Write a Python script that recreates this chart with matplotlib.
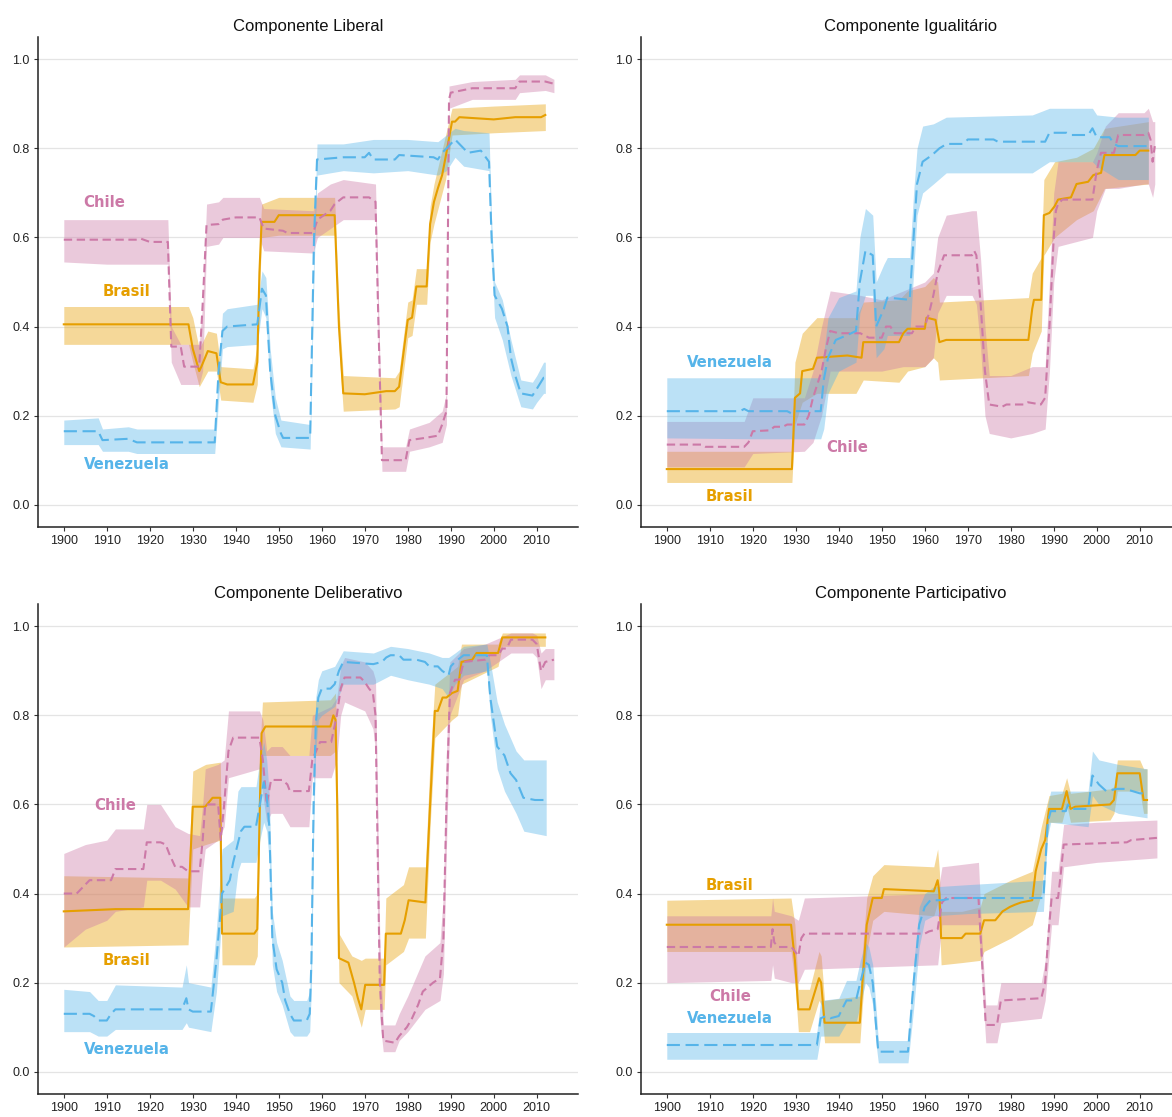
import matplotlib
matplotlib.use("Agg")
import matplotlib.pyplot as plt

# ---- Componente Liberal ----
lib_brasil = [(1900, 0.405), (1929, 0.405), (1930, 0.35), (1931.5, 0.30), (1932, 0.31), (1933.5, 0.345),
              (1935.5, 0.34), (1936.5, 0.275), (1938, 0.27), (1944, 0.27), (1945, 0.32), (1945.5, 0.52),
              (1946, 0.635), (1949, 0.635), (1950, 0.65), (1963, 0.65), (1964, 0.4), (1965, 0.25),
              (1970, 0.248), (1975, 0.255), (1977, 0.255), (1978, 0.265), (1980, 0.415), (1981, 0.42),
              (1982, 0.49), (1984.4, 0.49), (1985.2, 0.63), (1986.1, 0.68), (1987, 0.71), (1988, 0.74),
              (1988.8, 0.78), (1990.3, 0.86), (1991, 0.86), (1992, 0.87), (2000, 0.865), (2005, 0.87),
              (2011, 0.87), (2012, 0.875)]
lib_brasil_band = [(1900, 0.36, 0.445), (1929, 0.36, 0.445), (1930, 0.32, 0.42), (1931.5, 0.265, 0.35),
                   (1933.5, 0.3, 0.39), (1935.5, 0.3, 0.385), (1936.5, 0.235, 0.31), (1944, 0.23, 0.305),
                   (1945, 0.27, 0.36), (1945.5, 0.47, 0.57), (1946, 0.6, 0.675), (1950, 0.605, 0.69),
                   (1963, 0.605, 0.69), (1964, 0.35, 0.44), (1965, 0.21, 0.29), (1977, 0.215, 0.285),
                   (1978, 0.22, 0.3), (1980, 0.375, 0.455), (1981, 0.38, 0.46), (1982, 0.45, 0.53),
                   (1984.4, 0.45, 0.53), (1985.2, 0.59, 0.67), (1986.1, 0.63, 0.72), (1988.8, 0.73, 0.83),
                   (1990.3, 0.83, 0.89), (2000, 0.835, 0.895), (2012, 0.84, 0.9)]
lib_chile = [(1900, 0.595), (1917, 0.595), (1918, 0.597), (1920, 0.59), (1924.2, 0.59), (1925, 0.355),
             (1927.2, 0.355), (1928, 0.31), (1931.5, 0.31), (1932.3, 0.45), (1933.2, 0.628), (1936, 0.63),
             (1937, 0.64), (1940, 0.645), (1945.5, 0.645), (1946.5, 0.62), (1951, 0.615), (1952, 0.61),
             (1958, 0.61), (1959, 0.64), (1962, 0.66), (1963, 0.675), (1965, 0.69), (1971, 0.69),
             (1972.5, 0.68), (1973.2, 0.4), (1974, 0.1), (1979.5, 0.1), (1980.4, 0.145), (1984, 0.15),
             (1987, 0.155), (1988, 0.18), (1989, 0.21), (1989.6, 0.91), (1990, 0.925), (1995, 0.935),
             (2005, 0.935), (2006, 0.95), (2012, 0.95), (2014, 0.945)]
lib_chile_band = [(1900, 0.545, 0.64), (1910, 0.54, 0.64), (1924.2, 0.54, 0.64), (1925, 0.32, 0.40),
                  (1927.2, 0.27, 0.36), (1931.5, 0.27, 0.36), (1932.3, 0.3, 0.45), (1933.2, 0.58, 0.675),
                  (1936, 0.585, 0.68), (1937, 0.6, 0.69), (1945.5, 0.6, 0.69), (1946.5, 0.57, 0.665),
                  (1958, 0.565, 0.66), (1959, 0.6, 0.7), (1962, 0.62, 0.72), (1965, 0.64, 0.73),
                  (1972.5, 0.64, 0.72), (1973.2, 0.35, 0.45), (1974, 0.075, 0.13), (1979.5, 0.075, 0.13),
                  (1980.4, 0.12, 0.17), (1985, 0.13, 0.185), (1988, 0.14, 0.21), (1989, 0.18, 0.25),
                  (1989.6, 0.89, 0.94), (1995, 0.91, 0.95), (2005, 0.91, 0.955), (2006, 0.925, 0.965),
                  (2012, 0.93, 0.965), (2014, 0.925, 0.955)]
lib_venez = [(1900, 0.165), (1908, 0.165), (1909, 0.145), (1915, 0.148), (1917, 0.14), (1935.1, 0.14),
             (1936, 0.3), (1936.9, 0.39), (1938, 0.4), (1945, 0.405), (1946.1, 0.485), (1947, 0.47),
             (1948, 0.3), (1949.2, 0.2), (1950.5, 0.16), (1951, 0.15), (1957.3, 0.15), (1958.2, 0.6),
             (1958.9, 0.775), (1965, 0.78), (1970, 0.78), (1971, 0.79), (1972, 0.775), (1977, 0.775),
             (1978, 0.785), (1986, 0.78), (1987, 0.775), (1988, 0.79), (1989, 0.8), (1991, 0.82),
             (1993, 0.8), (1994, 0.79), (1997, 0.795), (1998.9, 0.77), (1999.5, 0.6), (2000.2, 0.47),
             (2001.9, 0.44), (2003.2, 0.4), (2004, 0.33), (2005, 0.29), (2006.3, 0.25), (2009, 0.245),
             (2010, 0.26), (2011.6, 0.285), (2012, 0.285)]
lib_venez_band = [(1900, 0.135, 0.19), (1908, 0.135, 0.195), (1909, 0.12, 0.17), (1915, 0.12, 0.175),
                  (1917, 0.115, 0.17), (1935.1, 0.115, 0.17), (1936.9, 0.35, 0.43), (1938, 0.355, 0.44),
                  (1945, 0.36, 0.45), (1946.1, 0.44, 0.525), (1947, 0.42, 0.51), (1948, 0.26, 0.35),
                  (1949.2, 0.16, 0.24), (1950.5, 0.13, 0.19), (1957.3, 0.125, 0.18), (1958.2, 0.52, 0.6),
                  (1958.9, 0.74, 0.81), (1965, 0.75, 0.81), (1972, 0.745, 0.82), (1980, 0.75, 0.82),
                  (1987, 0.74, 0.815), (1989, 0.75, 0.83), (1991, 0.78, 0.845), (1993, 0.76, 0.84),
                  (1998.9, 0.75, 0.835), (1999.5, 0.56, 0.64), (2000.2, 0.42, 0.5), (2002, 0.37, 0.46),
                  (2004, 0.29, 0.37), (2006.3, 0.22, 0.28), (2009, 0.215, 0.275), (2010, 0.23, 0.29),
                  (2011.6, 0.25, 0.32), (2012, 0.25, 0.32)]

# ---- Componente Igualitário ----
igu_brasil = [(1900, 0.08), (1929.1, 0.08), (1929.8, 0.24), (1931, 0.25), (1931.5, 0.30), (1934, 0.305),
              (1934.9, 0.33), (1942, 0.335), (1945.3, 0.33), (1945.7, 0.365), (1954, 0.365), (1955, 0.385),
              (1956, 0.395), (1960, 0.395), (1960.4, 0.42), (1962.5, 0.415), (1963.4, 0.365),
              (1965, 0.37), (1984.1, 0.37), (1985, 0.44), (1985.4, 0.46), (1987.1, 0.46), (1987.7, 0.65),
              (1989, 0.655), (1990.2, 0.67), (1991, 0.685), (1994, 0.69), (1995.3, 0.72), (1998, 0.725),
              (1999.2, 0.74), (2001, 0.745), (2001.8, 0.785), (2009, 0.785), (2010, 0.795), (2012, 0.795)]
igu_brasil_band = [(1900, 0.05, 0.12), (1929.1, 0.05, 0.12), (1929.8, 0.18, 0.32), (1931.5, 0.23, 0.385),
                   (1934.9, 0.25, 0.42), (1944, 0.25, 0.42), (1945.7, 0.28, 0.455), (1954, 0.275, 0.46),
                   (1956, 0.3, 0.48), (1960, 0.31, 0.49), (1962, 0.33, 0.51), (1963, 0.32, 0.5),
                   (1963.4, 0.28, 0.455), (1984.1, 0.29, 0.465), (1985, 0.34, 0.52), (1987.1, 0.39, 0.555),
                   (1987.7, 0.56, 0.73), (1990.2, 0.6, 0.77), (1995.3, 0.64, 0.78), (1999.2, 0.66, 0.8),
                   (2001.8, 0.71, 0.845), (2012, 0.72, 0.86)]
igu_chile = [(1900, 0.135), (1908, 0.135), (1909, 0.13), (1918, 0.13), (1919, 0.14), (1920, 0.165),
             (1924, 0.167), (1925, 0.175), (1927, 0.175), (1928, 0.18), (1932, 0.18), (1933, 0.2),
             (1934, 0.24), (1936, 0.3), (1937, 0.35), (1938, 0.39), (1940, 0.385), (1945, 0.385),
             (1946, 0.38), (1947, 0.375), (1950, 0.375), (1951, 0.4), (1952, 0.4), (1953, 0.385),
             (1957, 0.385), (1958, 0.4), (1960, 0.4), (1961, 0.43), (1962, 0.47), (1963, 0.52),
             (1964.5, 0.56), (1971, 0.56), (1971.5, 0.57), (1972, 0.56), (1973, 0.45), (1974, 0.3),
             (1975, 0.225), (1978, 0.22), (1979, 0.225), (1983, 0.225), (1984, 0.23), (1987, 0.225),
             (1988, 0.24), (1989, 0.4), (1990, 0.6), (1990.5, 0.66), (1991, 0.675), (1992, 0.685),
             (1999, 0.685), (2000, 0.75), (2001, 0.79), (2004, 0.79), (2005, 0.83), (2011, 0.83),
             (2012, 0.835), (2012.5, 0.82), (2013, 0.77), (2013.5, 0.805)]
igu_chile_band = [(1900, 0.085, 0.187), (1918, 0.085, 0.187), (1920, 0.115, 0.24), (1932, 0.12, 0.24),
                  (1934, 0.14, 0.3), (1936, 0.2, 0.4), (1938, 0.3, 0.48), (1945, 0.3, 0.47),
                  (1950, 0.3, 0.46), (1955, 0.31, 0.48), (1960, 0.31, 0.5), (1962, 0.33, 0.52),
                  (1963, 0.43, 0.6), (1965, 0.47, 0.65), (1971, 0.47, 0.66), (1972, 0.45, 0.66),
                  (1973, 0.35, 0.55), (1974, 0.2, 0.4), (1975, 0.16, 0.29), (1980, 0.15, 0.29),
                  (1985, 0.16, 0.31), (1988, 0.17, 0.31), (1989, 0.3, 0.5), (1990, 0.5, 0.7),
                  (1991, 0.58, 0.77), (1999, 0.6, 0.77), (2000, 0.66, 0.79), (2002, 0.71, 0.85),
                  (2005, 0.71, 0.88), (2011, 0.72, 0.88), (2012, 0.72, 0.89), (2013, 0.69, 0.86),
                  (2013.5, 0.72, 0.86)]
igu_venez = [(1900, 0.21), (1917, 0.21), (1918, 0.215), (1919, 0.21), (1928, 0.21), (1929, 0.205),
             (1930, 0.21), (1935.8, 0.21), (1936.5, 0.28), (1937.5, 0.33), (1939.3, 0.37), (1941.8, 0.38),
             (1944, 0.39), (1944.9, 0.5), (1946.2, 0.57), (1947.9, 0.56), (1948.7, 0.4), (1950.5, 0.44),
             (1951.3, 0.465), (1956.5, 0.46), (1957.4, 0.6), (1958.2, 0.72), (1959.5, 0.77),
             (1961.7, 0.785), (1963.4, 0.8), (1965.1, 0.81), (1969, 0.81), (1970, 0.82), (1976, 0.82),
             (1977, 0.815), (1988, 0.815), (1989, 0.835), (1993, 0.835), (1994, 0.83), (1998, 0.83),
             (1999, 0.845), (2000, 0.825), (2003, 0.825), (2004, 0.81), (2005, 0.805), (2012, 0.805)]
igu_venez_band = [(1900, 0.15, 0.285), (1920, 0.148, 0.285), (1935.8, 0.148, 0.285), (1936.5, 0.17, 0.34),
                  (1937.5, 0.25, 0.42), (1940, 0.3, 0.465), (1944, 0.32, 0.48), (1944.9, 0.43, 0.6),
                  (1946.2, 0.47, 0.665), (1947.9, 0.47, 0.65), (1948.7, 0.33, 0.5), (1950.5, 0.35, 0.54),
                  (1951.3, 0.38, 0.555), (1956.5, 0.38, 0.555), (1957.4, 0.52, 0.7), (1958.2, 0.65, 0.8),
                  (1959.5, 0.7, 0.85), (1962, 0.72, 0.855), (1965, 0.745, 0.87), (1985, 0.745, 0.875),
                  (1989, 0.77, 0.89), (1999, 0.77, 0.89), (2000, 0.76, 0.875), (2005, 0.73, 0.87),
                  (2012, 0.73, 0.87)]

# ---- Componente Deliberativo ----
dlb_brasil = [(1900, 0.36), (1912, 0.365), (1928.9, 0.365), (1930, 0.595), (1932.9, 0.595), (1934.6, 0.615),
              (1936.4, 0.615), (1936.8, 0.31), (1944.3, 0.31), (1945, 0.32), (1945.6, 0.6), (1946, 0.76),
              (1946.9, 0.775), (1962, 0.775), (1962.7, 0.8), (1963.2, 0.79), (1963.6, 0.6), (1964, 0.255),
              (1966.2, 0.245), (1967.5, 0.2), (1968.4, 0.165), (1969.2, 0.14), (1970.1, 0.195),
              (1974.5, 0.195), (1974.9, 0.31), (1978.4, 0.31), (1979.3, 0.34), (1980.2, 0.385),
              (1984.1, 0.38), (1985.2, 0.6), (1986.3, 0.81), (1987, 0.81), (1988.1, 0.84), (1989, 0.84),
              (1990.3, 0.85), (1991.6, 0.855), (1992.5, 0.92), (1995, 0.925), (1996, 0.94), (2001, 0.94),
              (2002, 0.975), (2012, 0.975)]
dlb_brasil_band = [(1900, 0.28, 0.44), (1928.9, 0.285, 0.435), (1930, 0.5, 0.675), (1933, 0.51, 0.69),
                   (1936.4, 0.52, 0.695), (1936.8, 0.24, 0.39), (1944.3, 0.24, 0.39), (1945, 0.26, 0.4),
                   (1945.6, 0.55, 0.72), (1946.2, 0.71, 0.83), (1962, 0.71, 0.835), (1963.2, 0.72, 0.85),
                   (1963.6, 0.45, 0.7), (1964, 0.2, 0.31), (1967, 0.17, 0.26), (1969.2, 0.1, 0.25),
                   (1970.1, 0.14, 0.255), (1974.5, 0.14, 0.255), (1974.9, 0.24, 0.39), (1979, 0.27, 0.42),
                   (1980.2, 0.3, 0.46), (1984.1, 0.3, 0.46), (1985.2, 0.55, 0.7), (1986.3, 0.75, 0.87),
                   (1990.3, 0.79, 0.9), (1991.6, 0.8, 0.91), (1992.5, 0.87, 0.96), (2001, 0.91, 0.96),
                   (2002, 0.955, 0.985), (2012, 0.955, 0.985)]
dlb_chile = [(1900, 0.40), (1903, 0.40), (1905, 0.42), (1906, 0.43), (1911, 0.43), (1912, 0.455),
             (1918.5, 0.455), (1919.3, 0.515), (1922.5, 0.515), (1923.7, 0.51), (1924.5, 0.49),
             (1925.9, 0.46), (1927.5, 0.46), (1928.9, 0.45), (1931.6, 0.45), (1932.3, 0.52),
             (1932.9, 0.6), (1935.9, 0.6), (1936.5, 0.52), (1937.3, 0.6), (1938.3, 0.72), (1939.4, 0.75),
             (1945.5, 0.75), (1946.3, 0.7), (1947.2, 0.6), (1948.2, 0.655), (1950.8, 0.655),
             (1952, 0.645), (1952.6, 0.63), (1957, 0.63), (1957.8, 0.7), (1959.6, 0.74), (1962.2, 0.74),
             (1963.5, 0.8), (1964.4, 0.86), (1965.3, 0.885), (1969, 0.885), (1970, 0.875), (1971, 0.86),
             (1971.9, 0.85), (1972.5, 0.8), (1973, 0.5), (1973.5, 0.2), (1974.3, 0.07), (1977, 0.065),
             (1978, 0.08), (1979.8, 0.1), (1981, 0.12), (1982.4, 0.15), (1983.5, 0.18), (1985.9, 0.2),
             (1987.5, 0.21), (1988.3, 0.3), (1989, 0.6), (1989.8, 0.85), (1991, 0.88), (1992, 0.88),
             (1993, 0.92), (1998, 0.925), (1999, 0.935), (2001, 0.935), (2002, 0.95), (2003, 0.95),
             (2004, 0.97), (2009, 0.97), (2010, 0.96), (2011, 0.9), (2012, 0.92), (2014, 0.925)]
dlb_chile_band = [(1900, 0.28, 0.49), (1905, 0.32, 0.51), (1910, 0.34, 0.52), (1912, 0.36, 0.545),
                  (1918.5, 0.37, 0.545), (1919.3, 0.43, 0.6), (1922.5, 0.43, 0.6), (1925.9, 0.41, 0.55),
                  (1928.9, 0.37, 0.535), (1931.6, 0.37, 0.53), (1932.3, 0.45, 0.6), (1932.9, 0.5, 0.68),
                  (1935.9, 0.52, 0.69), (1937.3, 0.55, 0.7), (1938.3, 0.66, 0.81), (1945.5, 0.68, 0.81),
                  (1946.3, 0.62, 0.79), (1947.2, 0.56, 0.72), (1948.2, 0.58, 0.73), (1950.8, 0.58, 0.73),
                  (1952.6, 0.55, 0.71), (1957, 0.55, 0.71), (1957.8, 0.66, 0.8), (1962.2, 0.66, 0.82),
                  (1963.5, 0.7, 0.84), (1964.4, 0.8, 0.91), (1965.3, 0.83, 0.93), (1970, 0.81, 0.92),
                  (1971.9, 0.77, 0.9), (1972.5, 0.72, 0.88), (1973, 0.35, 0.6), (1973.5, 0.12, 0.3),
                  (1974.3, 0.045, 0.105), (1977, 0.045, 0.105), (1978, 0.07, 0.13), (1980, 0.09, 0.17),
                  (1984, 0.14, 0.26), (1987.5, 0.16, 0.29), (1988.3, 0.22, 0.4), (1989, 0.5, 0.72),
                  (1989.8, 0.8, 0.92), (1993, 0.88, 0.95), (1998, 0.9, 0.96), (2004, 0.94, 0.985),
                  (2009, 0.94, 0.985), (2010, 0.93, 0.98), (2011, 0.86, 0.94), (2012, 0.88, 0.95),
                  (2014, 0.88, 0.95)]
dlb_venez = [(1900, 0.13), (1906, 0.13), (1907, 0.125), (1908, 0.115), (1910, 0.115), (1911, 0.13),
             (1912, 0.14), (1927.5, 0.14), (1928.5, 0.165), (1929, 0.14), (1930, 0.135), (1934.2, 0.135),
             (1935.5, 0.25), (1936.8, 0.4), (1938.6, 0.43), (1939.4, 0.47), (1941.2, 0.54), (1942, 0.55),
             (1944.7, 0.55), (1945.6, 0.6), (1946.5, 0.65), (1947.2, 0.62), (1947.8, 0.55), (1948.5, 0.3),
             (1949.5, 0.23), (1950.8, 0.2), (1951.5, 0.16), (1952.6, 0.13), (1953.5, 0.115), (1956.5, 0.115),
             (1957.2, 0.13), (1957.6, 0.25), (1958.1, 0.6), (1958.6, 0.78), (1959.2, 0.84), (1960, 0.86),
             (1962, 0.86), (1963, 0.87), (1964, 0.9), (1965, 0.92), (1972, 0.915), (1974, 0.92),
             (1975, 0.93), (1976, 0.935), (1978, 0.935), (1979, 0.925), (1982, 0.925), (1984, 0.92),
             (1985, 0.91), (1987, 0.91), (1988, 0.9), (1989.5, 0.89), (1990, 0.91), (1991, 0.92),
             (1993, 0.935), (1998.4, 0.935), (1999.2, 0.84), (2000.8, 0.73), (2002.5, 0.71),
             (2003.9, 0.67), (2005.2, 0.655), (2006.9, 0.615), (2009.6, 0.61), (2012.2, 0.61)]
dlb_venez_band = [(1900, 0.09, 0.185), (1906, 0.09, 0.18), (1908, 0.08, 0.16), (1910, 0.08, 0.16),
                  (1912, 0.095, 0.195), (1927.5, 0.095, 0.19), (1928.5, 0.11, 0.24), (1929, 0.1, 0.2),
                  (1934.2, 0.09, 0.19), (1935.5, 0.18, 0.32), (1936.8, 0.35, 0.5), (1939.4, 0.36, 0.52),
                  (1940.5, 0.45, 0.63), (1941.2, 0.47, 0.64), (1944.7, 0.47, 0.64), (1945.6, 0.52, 0.7),
                  (1946.5, 0.56, 0.74), (1947.2, 0.54, 0.7), (1947.8, 0.47, 0.62), (1948.5, 0.24, 0.36),
                  (1949.5, 0.18, 0.29), (1950.8, 0.15, 0.25), (1952.6, 0.09, 0.17), (1953.5, 0.08, 0.16),
                  (1956.5, 0.08, 0.16), (1957.2, 0.09, 0.18), (1957.6, 0.19, 0.32), (1958.1, 0.53, 0.68),
                  (1958.6, 0.72, 0.84), (1959.2, 0.79, 0.88), (1960, 0.8, 0.9), (1963, 0.82, 0.91),
                  (1965, 0.87, 0.945), (1972, 0.87, 0.94), (1976, 0.89, 0.955), (1980, 0.88, 0.95),
                  (1985, 0.87, 0.94), (1988, 0.86, 0.93), (1989.5, 0.84, 0.93), (1991, 0.87, 0.94),
                  (1993, 0.89, 0.955), (1998.4, 0.9, 0.96), (1999.2, 0.8, 0.92), (2000.8, 0.68, 0.83),
                  (2002.5, 0.63, 0.78), (2005.2, 0.58, 0.72), (2007, 0.54, 0.7), (2012.2, 0.53, 0.7)]

# ---- Componente Participativo ----
par_brasil = [(1900, 0.33), (1928.9, 0.33), (1929.8, 0.25), (1930.6, 0.14), (1933.2, 0.14), (1935.4, 0.21),
              (1935.9, 0.2), (1936.7, 0.11), (1944.9, 0.11), (1945.5, 0.2), (1946.5, 0.33), (1947.9, 0.39),
              (1950, 0.39), (1950.5, 0.41), (1962.1, 0.405), (1963, 0.43), (1963.4, 0.4), (1963.8, 0.3),
              (1968.6, 0.3), (1969.5, 0.31), (1972.9, 0.31), (1973.8, 0.34), (1976.4, 0.34), (1978.1, 0.36),
              (1979.8, 0.37), (1981, 0.375), (1982.4, 0.38), (1985, 0.385), (1985.8, 0.45), (1987.1, 0.5),
              (1988, 0.52), (1988.9, 0.59), (1991.9, 0.59), (1993, 0.63), (1993.9, 0.59), (1995, 0.595),
              (2003.1, 0.6), (2004, 0.61), (2004.8, 0.67), (2010, 0.67), (2010.9, 0.61), (2011.7, 0.61)]
par_brasil_band = [(1900, 0.27, 0.385), (1928.9, 0.27, 0.39), (1929.8, 0.2, 0.33), (1930.6, 0.09, 0.185),
                   (1933.2, 0.09, 0.185), (1935.4, 0.16, 0.27), (1935.9, 0.15, 0.26), (1936.7, 0.065, 0.16),
                   (1944.9, 0.065, 0.17), (1945.5, 0.15, 0.27), (1946.5, 0.27, 0.39), (1947.9, 0.34, 0.44),
                   (1950.5, 0.36, 0.465), (1962.1, 0.35, 0.46), (1963, 0.38, 0.5), (1963.4, 0.34, 0.45),
                   (1963.8, 0.24, 0.36), (1968.6, 0.245, 0.36), (1972.9, 0.25, 0.37), (1973.8, 0.27, 0.4),
                   (1980, 0.3, 0.43), (1985, 0.33, 0.45), (1987.1, 0.4, 0.55), (1988.9, 0.56, 0.62),
                   (1991.9, 0.56, 0.625), (1993, 0.6, 0.66), (1993.9, 0.56, 0.625), (2003.1, 0.565, 0.635),
                   (2004, 0.58, 0.64), (2004.8, 0.63, 0.7), (2010, 0.63, 0.7), (2010.9, 0.58, 0.68),
                   (2011.7, 0.58, 0.68)]
par_chile = [(1900, 0.28), (1924.2, 0.28), (1924.6, 0.32), (1925, 0.29), (1926, 0.28), (1929, 0.28),
             (1930.6, 0.26), (1931.3, 0.3), (1932, 0.31), (1960, 0.31), (1961, 0.315), (1963, 0.32),
             (1964, 0.38), (1965, 0.39), (1972.5, 0.39), (1973.3, 0.25), (1974.2, 0.105), (1976.8, 0.105),
             (1977.7, 0.16), (1987.1, 0.165), (1988, 0.2), (1988.7, 0.3), (1989.5, 0.39), (1991, 0.39),
             (1991.7, 0.45), (1992.3, 0.51), (2007, 0.515), (2008, 0.52), (2014, 0.525)]
par_chile_band = [(1900, 0.2, 0.35), (1924.2, 0.205, 0.35), (1924.6, 0.24, 0.39), (1925, 0.21, 0.36),
                  (1929, 0.2, 0.35), (1930.6, 0.2, 0.34), (1932, 0.23, 0.39), (1963, 0.24, 0.4),
                  (1964, 0.33, 0.46), (1972.5, 0.33, 0.47), (1973.3, 0.2, 0.3), (1974.2, 0.065, 0.15),
                  (1976.8, 0.065, 0.15), (1977.7, 0.11, 0.2), (1987.1, 0.12, 0.2), (1988, 0.16, 0.25),
                  (1989.5, 0.33, 0.45), (1991, 0.33, 0.45), (1992.3, 0.46, 0.555), (2000, 0.47, 0.56),
                  (2014, 0.48, 0.565)]
par_venez = [(1900, 0.06), (1934.9, 0.06), (1935.8, 0.12), (1937, 0.125), (1938, 0.12), (1940, 0.125),
             (1941, 0.145), (1941.8, 0.16), (1944, 0.16), (1945, 0.2), (1946.2, 0.245), (1947, 0.24),
             (1947.9, 0.2), (1948.7, 0.1), (1949.2, 0.045), (1956.1, 0.045), (1957.4, 0.2), (1958.7, 0.33),
             (1960, 0.37), (1961.3, 0.385), (1964, 0.385), (1967, 0.39), (1987.6, 0.39), (1988.6, 0.56),
             (1989.3, 0.585), (1992.8, 0.585), (1993.3, 0.6), (1994, 0.59), (1998, 0.59), (1999, 0.665),
             (2000.5, 0.645), (2002.2, 0.63), (2004.8, 0.635), (2006.6, 0.635), (2010, 0.625),
             (2011.7, 0.625)]
par_venez_band = [(1900, 0.028, 0.088), (1934.9, 0.028, 0.088), (1935.8, 0.08, 0.16), (1940, 0.08, 0.165),
                  (1941.8, 0.11, 0.205), (1944, 0.11, 0.205), (1945, 0.15, 0.25), (1946.2, 0.2, 0.29),
                  (1947, 0.19, 0.28), (1947.9, 0.15, 0.24), (1948.7, 0.06, 0.14), (1949.2, 0.02, 0.07),
                  (1956.1, 0.02, 0.07), (1957.4, 0.14, 0.24), (1958.7, 0.28, 0.37), (1960, 0.34, 0.4),
                  (1962, 0.35, 0.415), (1970, 0.355, 0.42), (1987.6, 0.36, 0.43), (1988.6, 0.53, 0.6),
                  (1989.3, 0.56, 0.63), (1998, 0.55, 0.63), (1999, 0.62, 0.72), (2000.5, 0.6, 0.7),
                  (2005, 0.58, 0.69), (2011.7, 0.57, 0.68)]

x_ticks = list(range(1900, 2011, 10))
y_ticks = [0.0, 0.2, 0.4, 0.6, 0.8, 1.0]

colors = {"Brasil": "#E69F00", "Chile": "#CC79A7", "Venezuela": "#56B4E9"}
dashes = {"Brasil": "-", "Chile": (0, (4.0, 2.2)), "Venezuela": (0, (6.3, 2.7))}

panels = [
    ("Componente Liberal", [38, 37],
     {"Brasil": (lib_brasil, lib_brasil_band), "Chile": (lib_chile, lib_chile_band),
      "Venezuela": (lib_venez, lib_venez_band)},
     [("Chile", 1909.5, 0.679), ("Brasil", 1914.7, 0.479), ("Venezuela", 1914.7, 0.09)]),
    ("Componente Igualitário", [641, 37],
     {"Brasil": (igu_brasil, igu_brasil_band), "Chile": (igu_chile, igu_chile_band),
      "Venezuela": (igu_venez, igu_venez_band)},
     [("Venezuela", 1914.7, 0.319), ("Chile", 1941.9, 0.128), ("Brasil", 1914.7, 0.018)]),
    ("Componente Deliberativo", [38, 604],
     {"Brasil": (dlb_brasil, dlb_brasil_band), "Chile": (dlb_chile, dlb_chile_band),
      "Venezuela": (dlb_venez, dlb_venez_band)},
     [("Chile", 1911.9, 0.598), ("Brasil", 1914.7, 0.249), ("Venezuela", 1914.7, 0.049)]),
    ("Componente Participativo", [641, 604],
     {"Brasil": (par_brasil, par_brasil_band), "Chile": (par_chile, par_chile_band),
      "Venezuela": (par_venez, par_venez_band)},
     [("Brasil", 1914.7, 0.418), ("Chile", 1914.7, 0.169), ("Venezuela", 1914.7, 0.119)]),
]

W, H = 1172, 1117
fig = plt.figure(figsize=(W / 100, H / 100), dpi=100)
plt.rcParams["font.family"] = ["Liberation Sans", "DejaVu Sans"]

for title, (left, top), series, labels in panels:
    ax = fig.add_axes([left / W, 1 - (top + 490) / H, 540 / W, 490 / H])
    # ribbons first (alphabetical order, like ggplot groups), then lines
    for name in ["Brasil", "Chile", "Venezuela"]:
        band = series[name][1]
        ax.fill_between([b[0] for b in band], [b[1] for b in band], [b[2] for b in band],
                        color=colors[name], alpha=0.4, linewidth=0)
    for name in ["Brasil", "Chile", "Venezuela"]:
        line = series[name][0]
        ax.plot([p[0] for p in line], [p[1] for p in line], color=colors[name],
                linestyle=dashes[name], linewidth=1.5)
    for text, x, y in labels:
        ax.text(x, y, text, color=colors[text], fontsize=10.7, fontweight="bold",
                family="DejaVu Sans", ha="center", va="center")

    ax.set_xlim(1894, 2019.6)
    ax.set_ylim(-0.05, 1.05)
    ax.set_xticks(x_ticks)
    ax.set_yticks(y_ticks)
    ax.set_yticklabels(["%.1f" % v for v in y_ticks])
    ax.set_title(title, fontsize=12, pad=4.5, color="#111111")
    ax.grid(axis="y", color="#e4e4e4", linewidth=0.9)
    ax.set_axisbelow(True)
    for s in ["top", "right"]:
        ax.spines[s].set_visible(False)
    for s in ["left", "bottom"]:
        ax.spines[s].set_color("#222222")
        ax.spines[s].set_linewidth(1.1)
    ax.tick_params(axis="both", labelsize=9, colors="#333333", length=3, width=0.8, pad=3,
                   labelcolor="#222222")

fig.savefig("out.png", dpi=100)
